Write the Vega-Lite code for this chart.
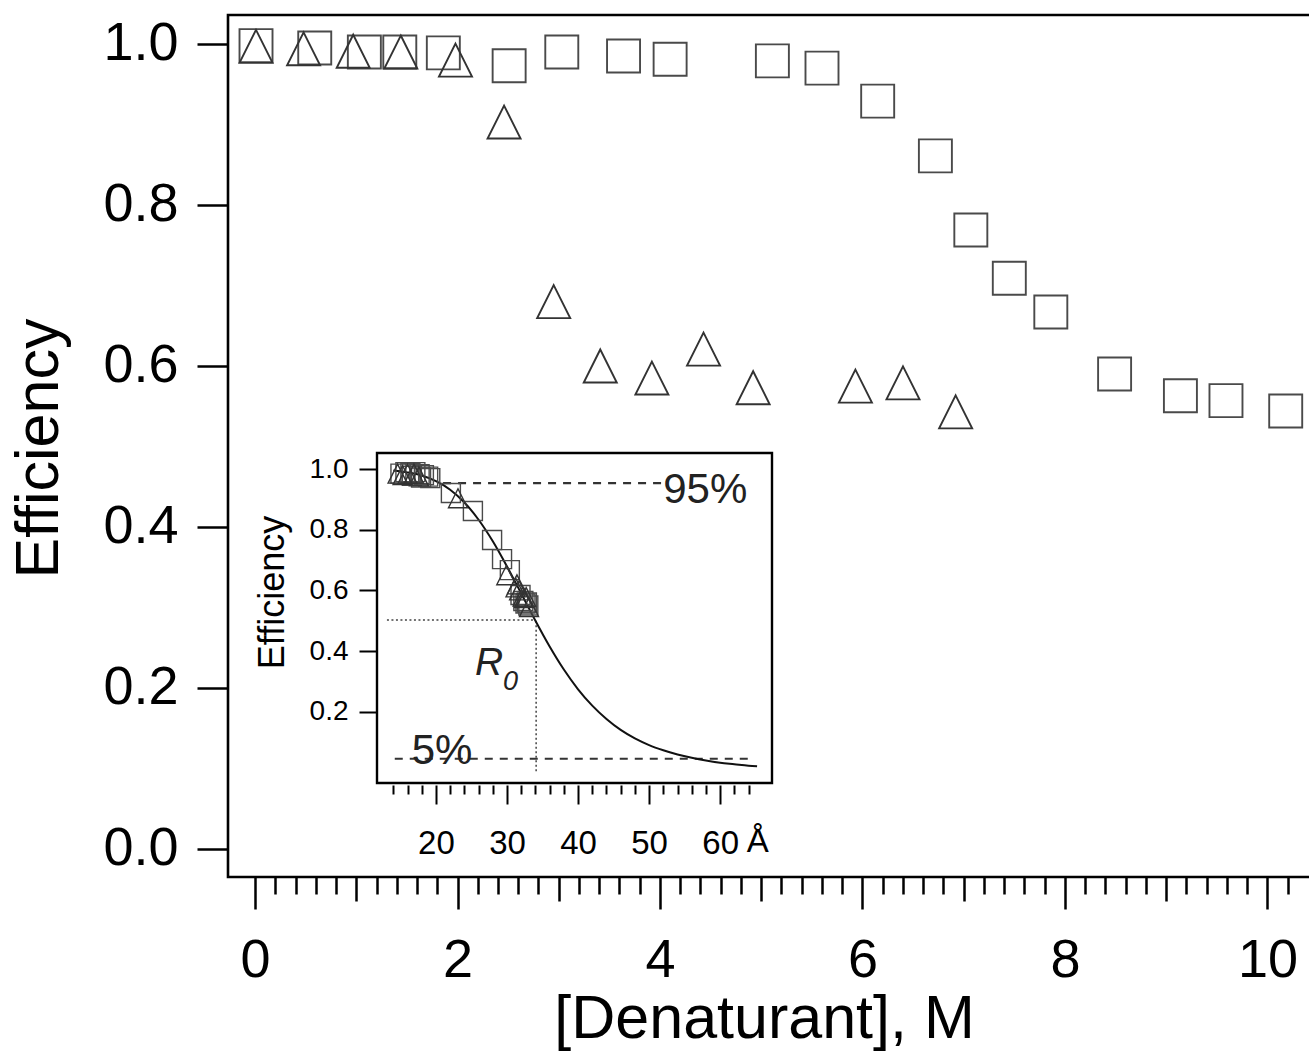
{
  "$schema": "https://vega.github.io/schema/vega-lite/v6.json",
  "width": 1081,
  "height": 862,
  "autosize": {"type": "none"},
  "padding": {"left": 228, "top": 15, "right": 0, "bottom": 180},
  "background": "white",
  "config": {
    "view": {"stroke": null},
    "font": "Liberation Sans",
    "axis": {"grid": false, "labelColor": "black", "titleColor": "black", "tickColor": "black", "titleFontWeight": "normal", "labelFont": "Liberation Sans", "titleFont": "Liberation Sans"}
  },
  "datasets": {
    "main": [
      {"conc": 0.01, "eff": 0.998, "series": "square"},
      {"conc": 0.59, "eff": 0.995, "series": "square"},
      {"conc": 1.08, "eff": 0.990, "series": "square"},
      {"conc": 1.43, "eff": 0.990, "series": "square"},
      {"conc": 1.86, "eff": 0.989, "series": "square"},
      {"conc": 2.51, "eff": 0.973, "series": "square"},
      {"conc": 3.03, "eff": 0.990, "series": "square"},
      {"conc": 3.64, "eff": 0.985, "series": "square"},
      {"conc": 4.10, "eff": 0.981, "series": "square"},
      {"conc": 5.11, "eff": 0.979, "series": "square"},
      {"conc": 5.60, "eff": 0.970, "series": "square"},
      {"conc": 6.15, "eff": 0.929, "series": "square"},
      {"conc": 6.72, "eff": 0.861, "series": "square"},
      {"conc": 7.07, "eff": 0.769, "series": "square"},
      {"conc": 7.45, "eff": 0.709, "series": "square"},
      {"conc": 7.86, "eff": 0.667, "series": "square"},
      {"conc": 8.49, "eff": 0.590, "series": "square"},
      {"conc": 9.14, "eff": 0.563, "series": "square"},
      {"conc": 9.59, "eff": 0.557, "series": "square"},
      {"conc": 10.18, "eff": 0.544, "series": "square"},
      {"conc": 0.01, "eff": 0.997, "series": "triangle"},
      {"conc": 0.48, "eff": 0.994, "series": "triangle"},
      {"conc": 0.97, "eff": 0.991, "series": "triangle"},
      {"conc": 1.44, "eff": 0.990, "series": "triangle"},
      {"conc": 1.98, "eff": 0.980, "series": "triangle"},
      {"conc": 2.46, "eff": 0.903, "series": "triangle"},
      {"conc": 2.95, "eff": 0.680, "series": "triangle"},
      {"conc": 3.41, "eff": 0.600, "series": "triangle"},
      {"conc": 3.92, "eff": 0.585, "series": "triangle"},
      {"conc": 4.43, "eff": 0.621, "series": "triangle"},
      {"conc": 4.92, "eff": 0.573, "series": "triangle"},
      {"conc": 5.93, "eff": 0.575, "series": "triangle"},
      {"conc": 6.40, "eff": 0.579, "series": "triangle"},
      {"conc": 6.92, "eff": 0.543, "series": "triangle"}
    ],
    "insetpts": [
      {"r": 15.0, "E": 0.985, "series": "square"},
      {"r": 15.7, "E": 0.990, "series": "square"},
      {"r": 16.4, "E": 0.987, "series": "square"},
      {"r": 17.1, "E": 0.990, "series": "square"},
      {"r": 17.7, "E": 0.983, "series": "square"},
      {"r": 18.3, "E": 0.980, "series": "square"},
      {"r": 18.9, "E": 0.975, "series": "square"},
      {"r": 17.9, "E": 0.972, "series": "square"},
      {"r": 19.2, "E": 0.970, "series": "square"},
      {"r": 16.6, "E": 0.978, "series": "square"},
      {"r": 22.1, "E": 0.921, "series": "square"},
      {"r": 25.2, "E": 0.862, "series": "square"},
      {"r": 27.9, "E": 0.766, "series": "square"},
      {"r": 29.3, "E": 0.703, "series": "square"},
      {"r": 30.4, "E": 0.667, "series": "square"},
      {"r": 31.9, "E": 0.585, "series": "square"},
      {"r": 32.3, "E": 0.565, "series": "square"},
      {"r": 32.6, "E": 0.557, "series": "square"},
      {"r": 33.0, "E": 0.550, "series": "square"},
      {"r": 32.8, "E": 0.560, "series": "square"},
      {"r": 14.6, "E": 0.985, "series": "triangle"},
      {"r": 15.3, "E": 0.980, "series": "triangle"},
      {"r": 16.0, "E": 0.984, "series": "triangle"},
      {"r": 16.9, "E": 0.985, "series": "triangle"},
      {"r": 17.6, "E": 0.976, "series": "triangle"},
      {"r": 23.1, "E": 0.904, "series": "triangle"},
      {"r": 29.9, "E": 0.650, "series": "triangle"},
      {"r": 31.2, "E": 0.610, "series": "triangle"},
      {"r": 31.4, "E": 0.620, "series": "triangle"},
      {"r": 31.7, "E": 0.600, "series": "triangle"},
      {"r": 32.2, "E": 0.580, "series": "triangle"},
      {"r": 32.4, "E": 0.575, "series": "triangle"},
      {"r": 32.7, "E": 0.578, "series": "triangle"},
      {"r": 33.1, "E": 0.545, "series": "triangle"}
    ],
    "curve": [
      {"r": 14, "E": 0.995}, {"r": 16, "E": 0.989}, {"r": 18, "E": 0.979}, {"r": 20, "E": 0.960},
      {"r": 22, "E": 0.932}, {"r": 24, "E": 0.890}, {"r": 26, "E": 0.833}, {"r": 28, "E": 0.762},
      {"r": 30, "E": 0.679}, {"r": 32, "E": 0.590}, {"r": 34, "E": 0.500}, {"r": 36, "E": 0.415},
      {"r": 38, "E": 0.339}, {"r": 40, "E": 0.274}, {"r": 42, "E": 0.220}, {"r": 44, "E": 0.176},
      {"r": 46, "E": 0.140}, {"r": 48, "E": 0.112}, {"r": 50, "E": 0.090}, {"r": 52, "E": 0.073},
      {"r": 54, "E": 0.059}, {"r": 56, "E": 0.048}, {"r": 58, "E": 0.039}, {"r": 60, "E": 0.032},
      {"r": 62, "E": 0.027}, {"r": 64, "E": 0.022}, {"r": 65.2, "E": 0.020}
    ],
    "one": [{}]
  },
  "layer": [
    {
      "layer": [
        {
          "data": {"name": "one"},
          "mark": {"type": "rect", "fill": "transparent", "stroke": "black", "strokeWidth": 2.6},
          "encoding": {
            "x": {"datum": -0.2667, "type": "quantitative"},
            "x2": {"datum": 10.7},
            "y": {"datum": -0.0348, "type": "quantitative"},
            "y2": {"datum": 1.036}
          }
        },
        {
          "data": {"name": "main"},
          "mark": {"type": "point", "filled": false, "strokeWidth": 1.9, "opacity": 1},
          "encoding": {
            "x": {
              "field": "conc", "type": "quantitative",
              "scale": {"domain": [-0.2667, 10.41], "nice": false, "zero": false},
              "axis": {
                "orient": "bottom",
                "values": [0,0.2,0.4,0.6,0.8,1,1.2,1.4,1.6,1.8,2,2.2,2.4,2.6,2.8,3,3.2,3.4,3.6,3.8,4,4.2,4.4,4.6,4.8,5,5.2,5.4,5.6,5.8,6,6.2,6.4,6.6,6.8,7,7.2,7.4,7.6,7.8,8,8.2,8.4,8.6,8.8,9,9.2,9.4,9.6,9.8,10,10.2],
                "tickCount": 200,
                "domain": false,
                "tickWidth": 2.5,
                "tickSize": {"condition": [{"test": "abs(datum.value/2 - round(datum.value/2)) < 0.01", "value": 32}, {"test": "abs(datum.value - round(datum.value)) < 0.01", "value": 24}], "value": 17},
                "labelExpr": "abs(datum.value/2 - round(datum.value/2)) < 0.01 ? format(datum.value, 'd') : ''",
                "labelFontSize": 54,
                "labelPadding": 24,
                "labelOverlap": false,
                "labelFlush": false,
                "title": "[Denaturant], M",
                "titleFontSize": 61,
                "titleX": 536,
                "titleY": 160,
                "titleAlign": "center",
                "titleBaseline": "alphabetic"
              }
            },
            "y": {
              "field": "eff", "type": "quantitative",
              "scale": {"domain": [-0.0348, 1.036], "nice": false, "zero": false},
              "axis": {
                "orient": "left",
                "values": [0, 0.2, 0.4, 0.6, 0.8, 1.0],
                "format": ".1f",
                "domain": false,
                "tickWidth": 2.5,
                "tickSize": 31,
                "labelFontSize": 54,
                "labelPadding": 19,
                "labelOverlap": false,
                "labelFlush": false,
                "title": "Efficiency",
                "titleFontSize": 61,
                "titleAngle": 270,
                "titleX": -171,
                "titleY": 433,
                "titleAlign": "center",
                "titleBaseline": "alphabetic"
              }
            },
            "shape": {"field": "series", "type": "nominal", "scale": {"domain": ["square", "triangle"], "range": ["square", "M0,-1L1,1L-1,1Z"]}, "legend": null},
            "color": {"field": "series", "type": "nominal", "scale": {"domain": ["square", "triangle"], "range": ["#4a4a4a", "#333333"]}, "legend": null},
            "size": {"value": 1089}
          }
        }
      ]
    },
    {
      "layer": [
        {
          "data": {"name": "one"},
          "mark": {"type": "rect", "fill": "white", "stroke": "black", "strokeWidth": 2.4},
          "encoding": {
            "x": {
              "datum": 11.7, "type": "quantitative",
              "scale": {"domain": [11.7, 67.3], "range": [149, 544], "nice": false, "zero": false},
              "axis": {
                "orient": "bottom",
                "offset": -92,
                "values": [14,16,18,20,22,24,26,28,30,32,34,36,38,40,42,44,46,48,50,52,54,56,58,60,62,64],
                "tickCount": 200,
                "domain": false,
                "tickWidth": 2,
                "tickSize": {"condition": {"test": "datum.value % 10 == 0", "value": 19}, "value": 9},
                "labelExpr": "datum.value % 10 == 0 ? format(datum.value, 'd') : ''",
                "labelFontSize": 33,
                "labelPadding": 23,
                "labelOverlap": false,
                "labelFlush": false,
                "title": null
              }
            },
            "x2": {"datum": 67.3},
            "y": {
              "datum": -0.035, "type": "quantitative",
              "scale": {"domain": [-0.035, 1.053], "range": [768, 438], "nice": false, "zero": false},
              "axis": {
                "orient": "left",
                "offset": -149,
                "values": [0.2, 0.4, 0.6, 0.8, 1.0],
                "format": ".1f",
                "domain": false,
                "tickWidth": 2,
                "tickSize": 18,
                "labelFontSize": 28,
                "labelPadding": 11,
                "labelOverlap": false,
                "labelFlush": false,
                "title": "Efficiency",
                "titleFontSize": 36,
                "titleAngle": 270,
                "titleX": -94,
                "titleY": 577,
                "titleAlign": "center",
                "titleBaseline": "alphabetic"
              }
            },
            "y2": {"datum": 1.053}
          }
        },
        {
          "data": {"name": "one"},
          "mark": {"type": "rule", "stroke": "#333333", "strokeWidth": 2.2, "strokeDash": [8, 7]},
          "encoding": {"x": {"datum": 21.0}, "x2": {"datum": 51.8}, "y": {"datum": 0.954}}
        },
        {
          "data": {"name": "one"},
          "mark": {"type": "rule", "stroke": "#333333", "strokeWidth": 2.2, "strokeDash": [8, 7]},
          "encoding": {"x": {"datum": 14.2}, "x2": {"datum": 63.9}, "y": {"datum": 0.045}}
        },
        {
          "data": {"name": "one"},
          "mark": {"type": "rule", "stroke": "#444444", "strokeWidth": 1.5, "strokeDash": [2, 2.5]},
          "encoding": {"x": {"datum": 13.1}, "x2": {"datum": 34.0}, "y": {"datum": 0.502}}
        },
        {
          "data": {"name": "one"},
          "mark": {"type": "rule", "stroke": "#444444", "strokeWidth": 1.5, "strokeDash": [2, 2.5]},
          "encoding": {"x": {"datum": 34.1}, "y": {"datum": 0.5}, "y2": {"datum": -0.002}}
        },
        {
          "data": {"name": "curve"},
          "mark": {"type": "line", "stroke": "#111111", "strokeWidth": 2, "interpolate": "monotone"},
          "encoding": {"x": {"field": "r", "type": "quantitative"}, "y": {"field": "E", "type": "quantitative"}}
        },
        {
          "data": {"name": "insetpts"},
          "mark": {"type": "point", "filled": false, "strokeWidth": 1.4, "opacity": 1},
          "encoding": {
            "x": {"field": "r", "type": "quantitative"},
            "y": {"field": "E", "type": "quantitative"},
            "shape": {"field": "series", "type": "nominal", "scale": {"domain": ["square", "triangle"], "range": ["square", "M0,-1L1,1L-1,1Z"]}, "legend": null},
            "color": {"field": "series", "type": "nominal", "scale": {"domain": ["square", "triangle"], "range": ["#555555", "#8a8a8a"]}, "legend": null},
            "size": {"value": 361}
          }
        },
        {
          "data": {"name": "one"},
          "mark": {"type": "text", "text": "95%", "fontSize": 42, "align": "center", "baseline": "alphabetic", "color": "#222222"},
          "encoding": {"x": {"datum": 57.9}, "y": {"datum": 0.888}}
        },
        {
          "data": {"name": "one"},
          "mark": {"type": "text", "text": "5%", "fontSize": 42, "align": "center", "baseline": "alphabetic", "color": "#222222"},
          "encoding": {"x": {"datum": 20.85}, "y": {"datum": 0.028}}
        },
        {
          "data": {"name": "one"},
          "mark": {"type": "text", "text": "R", "fontSize": 39, "fontStyle": "italic", "align": "left", "baseline": "alphabetic", "color": "#222222"},
          "encoding": {"x": {"datum": 25.5}, "y": {"datum": 0.321}}
        },
        {
          "data": {"name": "one"},
          "mark": {"type": "text", "text": "0", "fontSize": 27, "fontStyle": "italic", "align": "left", "baseline": "alphabetic", "color": "#222222"},
          "encoding": {"x": {"datum": 29.45}, "y": {"datum": 0.272}}
        },
        {
          "data": {"name": "one"},
          "mark": {"type": "text", "text": "Å", "fontSize": 33, "align": "center", "baseline": "alphabetic", "color": "black"},
          "encoding": {"x": {"datum": 65.3}, "y": {"datum": -0.262}}
        }
      ]
    }
  ],
  "resolve": {"scale": {"x": "independent", "y": "independent"}, "axis": {"x": "independent", "y": "independent"}}
}
